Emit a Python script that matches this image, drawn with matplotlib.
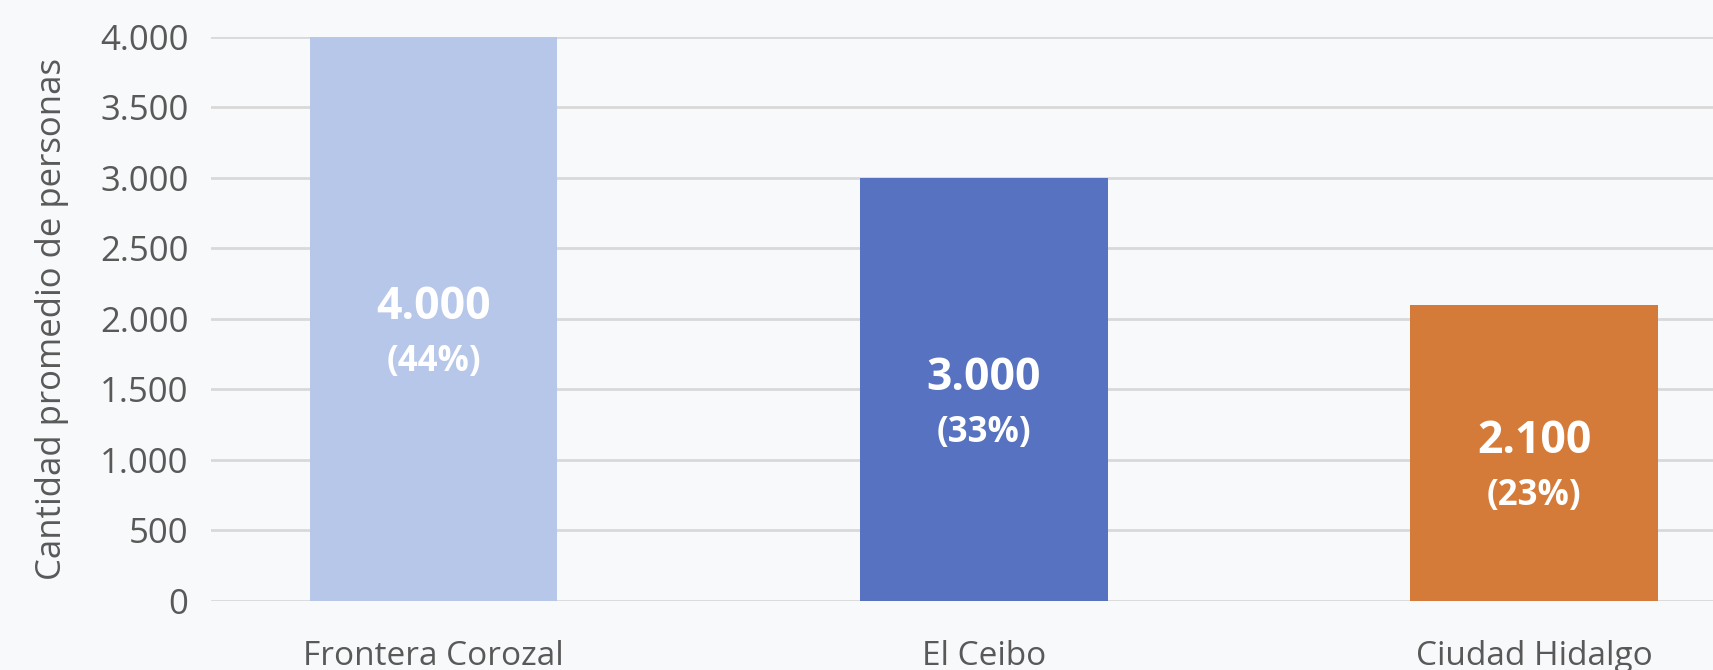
import matplotlib
matplotlib.use("Agg")
import matplotlib.pyplot as plt

categories = ["Frontera Corozal", "El Ceibo", "Ciudad Hidalgo"]
values = [4000, 3000, 2100]
shares = ["(44%)", "(33%)", "(23%)"]
colors = ["#B7C7EA", "#5672C0", "#D57B3A"]
yticks = [0, 500, 1000, 1500, 2000, 2500, 3000, 3500, 4000]

plt.rcParams["font.family"] = ["Open Sans", "DejaVu Sans"]
bg = "#F8F9FA"
text_color = "#595959"

fig = plt.figure(figsize=(17.13, 6.7), dpi=100, facecolor=bg)
ax = fig.add_axes([0.123, 0.103, 0.877, 0.842], facecolor=bg)

x = list(range(len(categories)))
ax.bar(x, values, width=0.45, color=colors, zorder=3)

for xi, v, s in zip(x, values, shares):
    mid = v / 2
    ax.text(xi, mid + 0.02 * 4000, f"{v:,}".replace(",", "."), ha="center", va="center",
            color="white", fontsize=32, fontweight="bold", zorder=4)
    ax.text(xi, mid - 0.077 * 4000, s, ha="center", va="center",
            color="white", fontsize=25, fontweight="bold", zorder=4)

ax.set_xlim(-0.405, 2.325)
ax.set_ylim(0, 4000)
ax.set_yticks(yticks)
ax.set_yticklabels([f"{t:,}".replace(",", ".") for t in yticks])
ax.set_xticks(x)
ax.set_xticklabels(categories)
ax.yaxis.grid(True, color="#D9D9D9", linewidth=2, zorder=0)
ax.set_axisbelow(True)
for sp in ax.spines.values():
    sp.set_visible(False)
ax.tick_params(axis="y", length=0, labelsize=25, labelcolor=text_color, pad=16)
ax.tick_params(axis="x", length=0, labelsize=24, labelcolor=text_color, pad=28)
ax.set_ylabel("Cantidad promedio de personas", fontsize=25, color=text_color, labelpad=22)

fig.savefig("out.png", dpi=100, facecolor=bg)
